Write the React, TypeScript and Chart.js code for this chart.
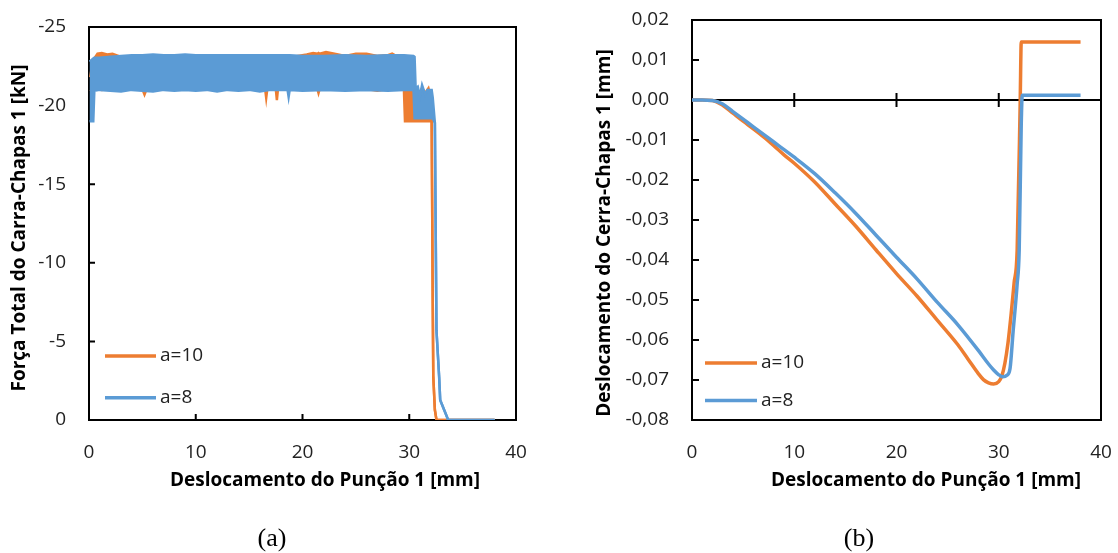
import { useEffect, useRef } from 'react';
import { Chart, registerables } from 'chart.js';

Chart.register(...registerables);

const ORANGE = '#ED7D31';
const BLUE = '#5B9BD5';
const FONT = '"Open Sans", "DejaVu Sans", sans-serif';

// (a) Total clamp force: the signal oscillates densely, so each series is kept as
// its upper (largest |F|) and lower envelope over the same displacement points.
const FORCE_X_A10 = [
  0.1, 0.4, 0.8, 1.2, 1.7, 2.2, 3, 4, 5.0, 5.2, 5.4, 7, 9, 11, 13, 15, 16.5, 16.6, 16.7,
  17.5, 17.6, 17.7, 19, 20.4, 21.0, 21.4, 21.5, 21.6, 22.2, 23.0, 24.0, 25.0, 26.0, 27.0,
  28.0, 28.4, 28.8, 29.5, 29.6, 30.3, 30.4, 30.9, 31.2, 31.5, 31.8, 32.0, 32.1, 32.2, 32.25,
  32.4, 32.55, 38,
];
const FORCE_HIGH_A10 = [
  -21.8, -22.9, -23.3, -23.35, -23.25, -23.3, -23.1, -23.1, -23.1, -23.1, -23.1, -23.1, -23.1,
  -23.1, -23.1, -23.1, -23.1, -23.1, -23.1, -23.1, -23.1, -23.1, -23.1, -23.25, -23.35, -23.3,
  -23.35, -23.3, -23.4, -23.3, -23.15, -23.3, -23.3, -23.15, -23.2, -23.3, -23.15, -23.15,
  -23.15, -23.1, -21.0, -20.7, -21.1, -20.8, -21.1, -20.6, -19.0, -7.6, -2.8, -0.64, 0, 0,
];
const FORCE_LOW_A10 = [
  -20.9, -21.0, -21.05, -21.0, -21.05, -21.05, -21.05, -21.05, -21.05, -20.7, -21.05, -21.05,
  -21.05, -21.05, -21.05, -21.05, -21.05, -20.5, -21.05, -21.05, -20.35, -21.05, -21.05,
  -21.05, -21.05, -21.05, -20.8, -21.05, -21.05, -21.05, -21.05, -21.05, -21.05, -20.95,
  -21.05, -21.05, -21.05, -21.05, -19.0, -19.0, -19.0, -19.0, -19.0, -19.0, -19.0, -19.0,
  -19.0, -7.6, -2.8, -0.64, 0, 0,
];

const FORCE_X_A8 = [
  0.05, 0.4, 0.5, 1.0, 2.0, 3.0, 4.0, 5.0, 6.0, 7.0, 8.0, 9.0, 10.0, 11.0, 12.0, 13.0, 14.0,
  15.0, 16.0, 17.0, 18.6, 18.7, 18.8, 20.0, 22.0, 24.0, 26.0, 28.0, 29.5, 30.4, 30.5, 30.6,
  30.8, 31.0, 31.2, 31.5, 31.7, 32.1, 32.2, 32.4, 32.55, 32.8, 32.9, 33.0, 33.65, 38,
];
const FORCE_HIGH_A8 = [
  -22.8, -23.0, -23.05, -23.05, -23.1, -23.15, -23.2, -23.2, -23.25, -23.2, -23.2, -23.25,
  -23.2, -23.2, -23.2, -23.2, -23.2, -23.2, -23.2, -23.2, -23.2, -23.2, -23.2, -23.15, -23.15,
  -23.2, -23.15, -23.2, -23.2, -23.15, -23.1, -21.1, -21.2, -20.6, -21.3, -20.7, -21.0, -21.0,
  -20.5, -18.9, -5.7, -2.75, -1.27, -1.1, 0, 0,
];
const FORCE_LOW_A8 = [
  -19.0, -19.0, -20.95, -21.0, -20.95, -20.9, -21.0, -20.95, -20.9, -21.0, -20.95, -21.0,
  -20.95, -21.0, -20.9, -21.0, -20.95, -21.0, -20.9, -21.0, -21.0, -20.55, -21.0, -20.95,
  -21.0, -20.95, -21.0, -20.95, -21.0, -21.0, -19.2, -19.2, -19.2, -19.2, -19.2, -19.2, -19.2,
  -19.2, -19.2, -18.9, -5.7, -2.75, -1.27, -1.1, 0, 0,
];

// (b) Clamp displacement
const CLAMP_X_A10 = [
  0, 1, 2, 3, 4, 5, 6, 7, 8, 9, 10, 12, 14, 16, 18, 20, 22, 24, 26, 27, 28, 28.5, 29, 29.5, 30,
  30.3, 30.6, 30.9, 31.2, 31.5, 31.8, 32.1, 32.2, 38,
];
const CLAMP_Y_A10 = [
  0, 0, -0.0001, -0.0013, -0.0033, -0.0053, -0.0072, -0.0092, -0.0114, -0.0137, -0.0158,
  -0.0205, -0.026, -0.0315, -0.0375, -0.0434, -0.049, -0.0551, -0.0612, -0.0648, -0.0684,
  -0.0699, -0.0707, -0.071, -0.0704, -0.069, -0.0658, -0.0608, -0.0538, -0.0458, -0.0375, 0.0,
  0.0145, 0.0145,
];
const CLAMP_X_A8 = [
  0, 1, 2, 3, 4, 5, 6, 7, 8, 9, 10, 12, 14, 16, 18, 20, 22, 24, 26, 28, 29, 29.5, 30.0, 30.4,
  30.8, 31.1, 31.4, 31.8, 32.0, 32.2, 32.3, 38,
];
const CLAMP_Y_A8 = [
  0, 0, -0.0001, -0.001, -0.0029, -0.0048, -0.0067, -0.0086, -0.0105, -0.0124, -0.0143,
  -0.0184, -0.0232, -0.0283, -0.0338, -0.0393, -0.0447, -0.0506, -0.0562, -0.0626, -0.066,
  -0.0675, -0.0687, -0.0692, -0.0688, -0.0672, -0.058, -0.046, -0.0375, -0.006, 0.0012, 0.0012,
];

const X_TICK_VALUES = [0, 10, 20, 30, 40];
const X_TICK_LABELS = ['0', '10', '20', '30', '40'];
const FORCE_TICK_VALUES = [-25, -20, -15, -10, -5, 0];
const FORCE_TICK_LABELS = ['-25', '-20', '-15', '-10', '-5', '0'];
const CLAMP_TICK_VALUES = [-0.08, -0.07, -0.06, -0.05, -0.04, -0.03, -0.02, -0.01, 0, 0.01, 0.02];
const CLAMP_TICK_LABELS = [
  '-0,08', '-0,07', '-0,06', '-0,05', '-0,04', '-0,03', '-0,02', '-0,01', '0,00', '0,01', '0,02',
];

const SERIES_A10 = 'a=10';
const SERIES_A8 = 'a=8';
const X_TITLE = 'Deslocamento do Punção 1 [mm]';
const FORCE_TITLE = 'Força Total do Carra-Chapas 1 [kN]';
const CLAMP_TITLE = 'Deslocamento do Cerra-Chapas 1 [mm]';

const zip = (xs: number[], ys: number[]) => xs.map((x, i) => ({ x, y: ys[i] }));

// Box frame, inward tick marks, axis titles and the in-plot legend.
const framePlugin = {
  id: 'excelFrame',
  beforeDatasetsDraw(chart: any, _args: any, opts: any) {
    const { ctx, chartArea: a } = chart;
    const xs = chart.scales.x;
    const ys = chart.scales.y;
    ctx.save();
    ctx.strokeStyle = '#000';
    ctx.lineWidth = 2;
    ctx.strokeRect(a.left, a.top, a.right - a.left, a.bottom - a.top);
    ctx.beginPath();
    for (const t of ys.ticks) {
      const p = ys.getPixelForValue(t.value);
      if (p <= a.top + 1 || p >= a.bottom - 1) continue;
      ctx.moveTo(a.left, p);
      ctx.lineTo(a.left + opts.tick, p);
    }
    const base = opts.crossAtZero ? ys.getPixelForValue(0) : a.bottom;
    if (opts.crossAtZero) {
      ctx.moveTo(a.left, base);
      ctx.lineTo(a.right, base);
    }
    for (const t of xs.ticks) {
      const p = xs.getPixelForValue(t.value);
      if (p <= a.left + 1 || p >= a.right - 1) continue;
      ctx.moveTo(p, base - opts.tick);
      ctx.lineTo(p, opts.crossAtZero ? base + opts.tick : base);
    }
    ctx.stroke();
    ctx.restore();
  },
  afterDraw(chart: any, _args: any, opts: any) {
    const { ctx } = chart;
    ctx.save();
    ctx.fillStyle = '#000';
    ctx.font = `bold ${opts.titleSize}px ${FONT}`;
    ctx.textAlign = 'center';
    ctx.textBaseline = 'middle';
    ctx.fillText(opts.xTitle.text, opts.xTitle.x, opts.xTitle.y);
    ctx.save();
    ctx.translate(opts.yTitle.x, opts.yTitle.y);
    ctx.rotate(-Math.PI / 2);
    ctx.fillText(opts.yTitle.text, 0, 0);
    ctx.restore();

    const entries = chart.data.datasets.filter((d: any) => d.label);
    const lg = opts.legend;
    ctx.font = `${lg.size}px ${FONT}`;
    ctx.textAlign = 'left';
    ctx.fillStyle = '#222';
    ctx.lineCap = 'butt';
    entries.forEach((d: any, i: number) => {
      const y = lg.y + i * lg.gap;
      ctx.strokeStyle = d.borderColor;
      ctx.lineWidth = 3.5;
      ctx.beginPath();
      ctx.moveTo(lg.x, y);
      ctx.lineTo(lg.x + lg.len, y);
      ctx.stroke();
      ctx.fillText(d.label, lg.x + lg.len + 4, y);
    });
    ctx.restore();
  },
};

const tickFont = { family: FONT, size: 19 };

function xScale(height: number) {
  return {
    type: 'linear',
    min: 0,
    max: 40,
    afterBuildTicks: (s: any) => {
      s.ticks = X_TICK_VALUES.map((value) => ({ value }));
    },
    afterFit: (s: any) => {
      s.height = height;
      s.paddingLeft = 0;
      s.paddingRight = 0;
    },
    ticks: {
      callback: (_v: any, i: number) => X_TICK_LABELS[i],
      padding: 21,
      font: tickFont,
      color: '#222',
      maxRotation: 0,
      autoSkip: false,
    },
    grid: { display: false, drawTicks: false },
    border: { display: false },
  };
}

function yScale(min: number, max: number, values: number[], labels: string[], width: number, reverse: boolean) {
  return {
    type: 'linear',
    min,
    max,
    reverse,
    afterBuildTicks: (s: any) => {
      s.ticks = values.map((value) => ({ value }));
    },
    afterFit: (s: any) => {
      s.width = width;
      s.paddingTop = 0;
      s.paddingBottom = 0;
    },
    ticks: {
      callback: (_v: any, i: number) => labels[i],
      padding: 23,
      font: tickFont,
      color: '#222',
      autoSkip: false,
    },
    grid: { display: false, drawTicks: false },
    border: { display: false },
  };
}

function bandDatasets(label: string, color: string, xs: number[], high: number[], low: number[], order: number) {
  const common = {
    borderColor: color,
    backgroundColor: color,
    borderWidth: 2.5,
    pointRadius: 0,
    tension: 0,
    order,
  };
  return [
    { ...common, label, data: zip(xs, high), fill: '+1' },
    { ...common, data: zip(xs, low), fill: false },
  ];
}

export default function App() {
  const forceRef = useRef<HTMLCanvasElement>(null);
  const clampRef = useRef<HTMLCanvasElement>(null);

  useEffect(() => {
    const force = new Chart(forceRef.current as HTMLCanvasElement, {
      type: 'line',
      data: {
        datasets: [
          ...bandDatasets(SERIES_A10, ORANGE, FORCE_X_A10, FORCE_HIGH_A10, FORCE_LOW_A10, 1),
          ...bandDatasets(SERIES_A8, BLUE, FORCE_X_A8, FORCE_HIGH_A8, FORCE_LOW_A8, 0),
        ],
      },
      options: {
        animation: false,
        responsive: false,
        devicePixelRatio: 1,
        layout: { padding: { left: 0, top: 27, right: 44, bottom: 0 } },
        scales: {
          x: xScale(133),
          y: yScale(-25, 0, FORCE_TICK_VALUES, FORCE_TICK_LABELS, 89, true),
        },
        plugins: {
          legend: { display: false },
          tooltip: { enabled: false },
          excelFrame: {
            tick: 6,
            crossAtZero: false,
            titleSize: 19,
            xTitle: { text: X_TITLE, x: 325, y: 481 },
            yTitle: { text: FORCE_TITLE, x: 20, y: 228 },
            legend: { x: 105, y: 356, gap: 41.7, len: 51, size: 19 },
          },
        },
      } as any,
      plugins: [framePlugin],
    } as any);

    const lineSet = (label: string, color: string, xs: number[], ys: number[], order: number) => ({
      label,
      data: zip(xs, ys),
      borderColor: color,
      backgroundColor: color,
      borderWidth: 3.5,
      pointRadius: 0,
      cubicInterpolationMode: 'monotone',
      fill: false,
      order,
    });

    const clamp = new Chart(clampRef.current as HTMLCanvasElement, {
      type: 'line',
      data: {
        datasets: [
          lineSet(SERIES_A10, ORANGE, CLAMP_X_A10, CLAMP_Y_A10, 1),
          lineSet(SERIES_A8, BLUE, CLAMP_X_A8, CLAMP_Y_A8, 0),
        ],
      },
      options: {
        animation: false,
        responsive: false,
        devicePixelRatio: 1,
        layout: { padding: { left: 0, top: 20, right: 17, bottom: 0 } },
        scales: {
          x: xScale(133),
          y: yScale(-0.08, 0.02, CLAMP_TICK_VALUES, CLAMP_TICK_LABELS, 132, false),
        },
        plugins: {
          legend: { display: false },
          tooltip: { enabled: false },
          excelFrame: {
            tick: 7,
            crossAtZero: true,
            titleSize: 19,
            xTitle: { text: X_TITLE, x: 366, y: 481 },
            yTitle: { text: CLAMP_TITLE, x: 45, y: 233 },
            legend: { x: 145, y: 363, gap: 37.5, len: 52, size: 19 },
          },
        },
      } as any,
      plugins: [framePlugin],
    } as any);

    return () => {
      force.destroy();
      clamp.destroy();
    };
  }, []);

  const caption = (left: number): React.CSSProperties => ({
    position: 'absolute',
    left: left - 50,
    width: 100,
    top: 522,
    textAlign: 'center',
    fontFamily: '"Liberation Serif", "DejaVu Serif", serif',
    fontSize: 26,
    lineHeight: '32px',
    color: '#000',
  });

  return (
    <div style={{ position: 'absolute', left: 0, top: 0, width: 1118, height: 553, background: '#fff', overflow: 'hidden' }}>
      <canvas ref={forceRef} width={560} height={553} style={{ position: 'absolute', left: 0, top: 0 }} />
      <canvas ref={clampRef} width={558} height={553} style={{ position: 'absolute', left: 560, top: 0 }} />
      <div style={caption(272)}>(a)</div>
      <div style={caption(859)}>(b)</div>
    </div>
  );
}
